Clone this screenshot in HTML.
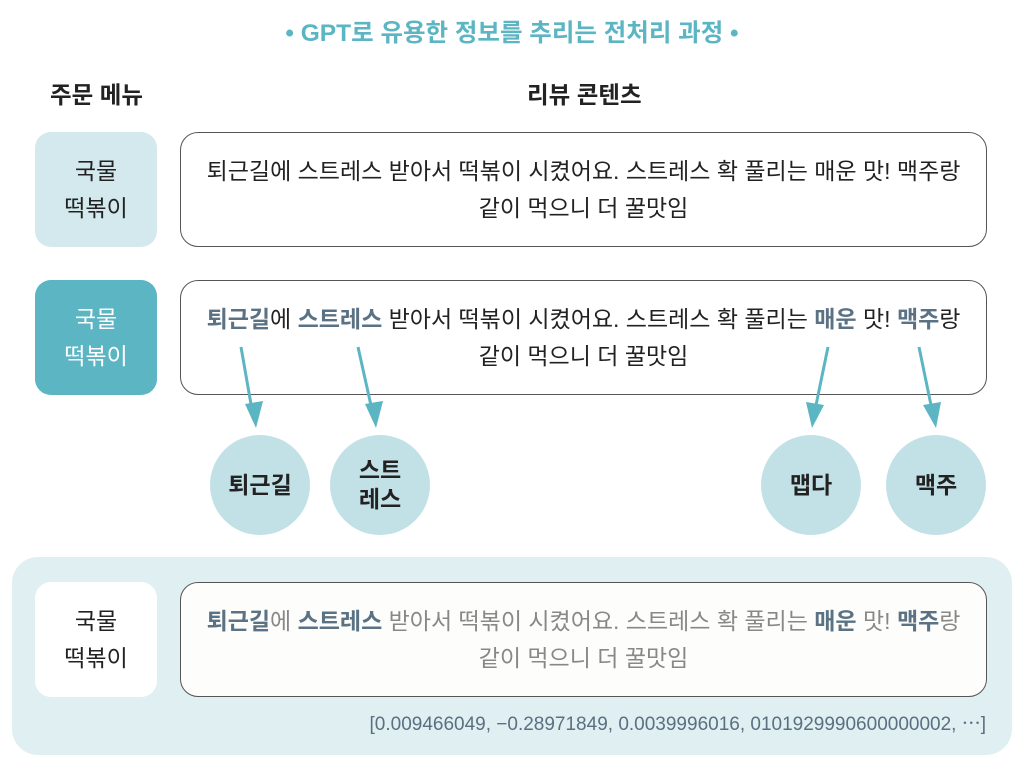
<!DOCTYPE html>
<html><head><meta charset="utf-8"><style>
*{margin:0;padding:0;box-sizing:border-box}
body{width:1024px;height:768px;background:#fff;position:relative;overflow:hidden;font-family:"Liberation Sans","Noto Sans CJK KR",sans-serif;color:#222}
.a{position:absolute}
.t{font-size:24.5px;color:#5bb5c3;font-weight:bold;left:0;width:1024px;text-align:center;top:14px}
.h{font-size:23.5px;font-weight:bold;top:76px;color:#222}
.mb{position:absolute;left:35px;width:122px;height:115px;border-radius:16px;display:flex;align-items:center;justify-content:center;text-align:center;font-size:23px;line-height:37px}
.rb{position:absolute;left:180px;width:807px;height:115px;border:1.5px solid #555;border-radius:18px;display:flex;align-items:center;justify-content:center;text-align:center;font-size:23px;line-height:37px;background:#fff;white-space:nowrap}
.k{color:#5a7284;font-weight:bold}
.c{position:absolute;width:100px;height:100px;border-radius:50%;background:#c2e1e7;display:flex;align-items:center;justify-content:center;text-align:center;font-weight:bold;font-size:23px;line-height:29px}
</style></head><body>
<div class="a t">• GPT로 유용한 정보를 추리는 전처리 과정 •</div>
<div class="a h" style="left:50px">주문 메뉴</div>
<div class="a h" style="left:527px">리뷰 콘텐츠</div>

<div class="mb" style="top:132px;background:#d3e9ee">국물<br>떡볶이</div>
<div class="rb" style="top:132px"><span>퇴근길에 스트레스 받아서 떡볶이 시켰어요. 스트레스 확 풀리는 매운 맛! 맥주랑<br>같이 먹으니 더 꿀맛임</span></div>

<div class="mb" style="top:280px;background:#5bb5c3;color:#fff">국물<br>떡볶이</div>
<div class="rb" style="top:280px"><span><span class="k">퇴근길</span>에 <span class="k">스트레스</span> 받아서 떡볶이 시켰어요. 스트레스 확 풀리는 <span class="k">매운</span> 맛! <span class="k">맥주</span>랑<br>같이 먹으니 더 꿀맛임</span></div>

<svg class="a" style="left:0;top:0" width="1024" height="768">
<g stroke="#5bb5c3" stroke-width="3">
<line x1="241" y1="347" x2="252" y2="410"/>
<line x1="358" y1="347" x2="372" y2="410"/>
<line x1="828" y1="347" x2="815" y2="410"/>
<line x1="919" y1="347" x2="932" y2="410"/>
</g>
<g fill="#5bb5c3">
<polygon points="245,404 263,401 256,428"/>
<polygon points="365,404 383,401 376,428"/>
<polygon points="806,402 824,405 812,428"/>
<polygon points="923,405 941,402 936,428"/>
</g>
</svg>

<div class="c" style="left:210px;top:435px">퇴근길</div>
<div class="c" style="left:330px;top:435px">스트<br>레스</div>
<div class="c" style="left:761px;top:435px">맵다</div>
<div class="c" style="left:886px;top:435px">맥주</div>

<div class="a" style="left:12px;top:557px;width:1000px;height:198px;background:#e0eff2;border-radius:26px"></div>
<div class="mb" style="top:582px;background:#fff">국물<br>떡볶이</div>
<div class="rb" style="top:582px;background:#fdfdfb;color:#888"><span><span class="k">퇴근길</span>에 <span class="k">스트레스</span> 받아서 떡볶이 시켰어요. 스트레스 확 풀리는 <span class="k">매운</span> 맛! <span class="k">맥주</span>랑<br>같이 먹으니 더 꿀맛임</span></div>
<div class="a" style="right:38px;top:709px;font-size:19px;color:#5a7080;white-space:nowrap">[0.009466049, −0.28971849, 0.0039996016, 0101929990600000002, ⋯]</div>
</body></html>
